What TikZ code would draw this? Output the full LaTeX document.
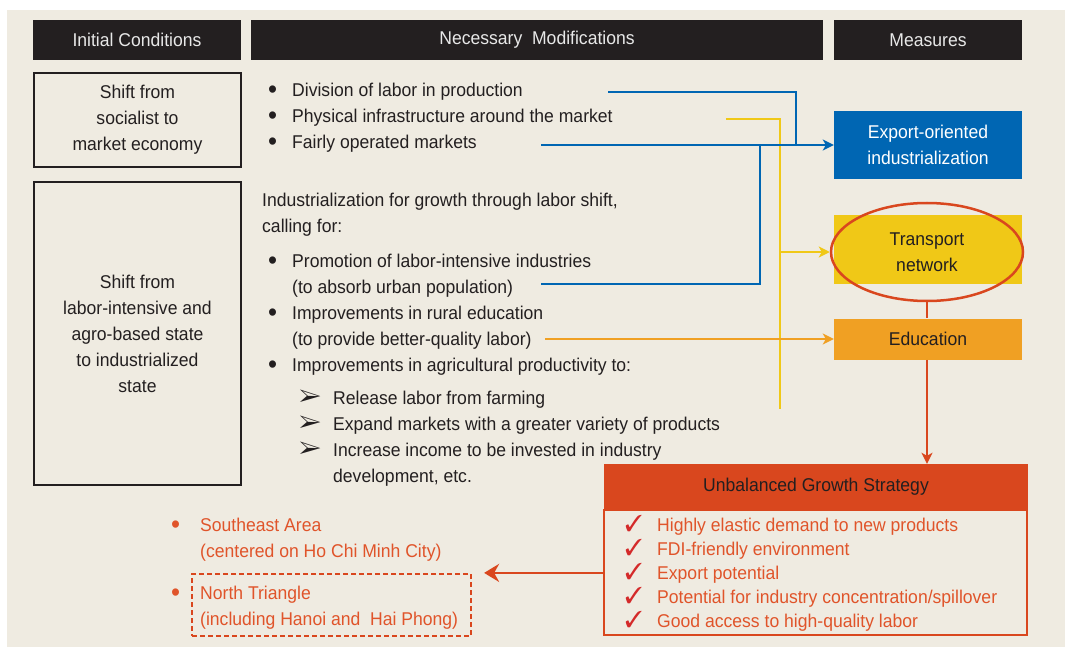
\documentclass[tikz,border=0pt]{standalone}
\usepackage{fontspec}
\setmainfont{Liberation Sans}[FakeStretch=0.95]
\usepackage{pifont}
\usetikzlibrary{arrows.meta,shapes.geometric}
\definecolor{bg}{HTML}{EFEBE1}
\definecolor{ink}{HTML}{231F20}
\definecolor{hdtxt}{HTML}{E8E8E8}
\definecolor{expblue}{HTML}{0066B3}
\definecolor{trnyel}{HTML}{F0C817}
\definecolor{eduorg}{HTML}{F0A023}
\definecolor{ubsred}{HTML}{D9471E}
\definecolor{ubstxt}{HTML}{E0542A}
\definecolor{chkred}{HTML}{D42A2A}
\newcommand{\fnt}{\fontsize{18.5}{26}\selectfont}
\newcommand{\bdot}{\smash{\raisebox{-2pt}{\fontsize{27}{27}\selectfont\textbullet}}}
\newcommand{\bul}{\makebox[23pt][l]{\hspace*{-1pt}\bdot}}
\newcommand{\arw}{\makebox[34pt][l]{\smash{\fontsize{24}{24}\selectfont\ding{226}}}}
\newcommand{\chk}{\makebox[32pt][l]{\smash{\textcolor{chkred}{\fontsize{23}{23}\selectfont\ding{51}}}}}
\begin{document}
\begin{tikzpicture}[x=1pt,y=-1pt,
    txt/.style={font=\fnt,text=ink,inner sep=0pt,align=left,anchor=north west},
    hdr/.style={fill=ink,text=hdtxt,font=\fnt,minimum height=40pt,inner sep=0pt},
    cond/.style={draw=ink,line width=1.3pt,font=\fnt,text=ink,align=center,minimum width=207pt,inner sep=0pt},
    msr/.style={minimum width=188pt,font=\fnt,text=ink,align=center,inner sep=0pt},
    tip/.style={-{Stealth[length=11pt,width=11pt,inset=3pt]}},
    bline/.style={draw=expblue,line width=2.8pt},
    yline/.style={draw=trnyel,line width=2.8pt},
    oline/.style={draw=eduorg,line width=2.8pt},
    rline/.style={draw=ubsred,line width=2.8pt}]
  \useasboundingbox (0,0) rectangle (1065,647);
  \fill[bg] (7,10) rectangle (1065,647);
  % column heads
  \node[hdr,minimum width=208pt] (ic) at (137,40) {Initial Conditions};
  \node[hdr,minimum width=572pt] (nm) at (537,40) {Necessary\ \ Modifications};
  \node[hdr,minimum width=188pt] (ms) at (928,40) {Measures};
  % initial conditions
  \node[cond,minimum height=94pt] (sh1) at (137.5,120) {Shift from\\socialist to\\market economy};
  \node[cond,minimum height=303pt] (sh2) at (137.5,333.5) {Shift from\\labor-intensive and\\agro-based state\\to industrialized\\state};
  % necessary modifications
  \node[txt] (mod1) at (269,83) {\bul Division of labor in production\\\bul Physical infrastructure around the market\\\bul Fairly operated markets};
  \node[txt] (mod2) at (262,193) {Industrialization for growth through labor shift,\\calling for:};
  \node[txt] (mod3) at (269,254) {\bul Promotion of labor-intensive industries\\\hspace*{23pt}(to absorb urban population)\\\bul Improvements in rural education\\\hspace*{23pt}(to provide better-quality labor)\\\bul Improvements in agricultural productivity to:};
  \node[txt] (mod4) at (299,391) {\arw Release labor from farming\\\arw Expand markets with a greater variety of products\\\arw Increase income to be invested in industry\\\hspace*{34pt}development, etc.};
  % measures
  \node[msr,fill=expblue,text=white,minimum height=68pt] (exp) at (928,145) {Export-oriented\\industrialization};
  \node[msr,fill=trnyel,minimum height=69pt] (trn) at (928,249.5) {};
  \node[draw=ubsred,line width=2.5pt,ellipse,minimum width=192pt,minimum height=98pt,inner sep=0pt,font=\fnt,text=ink,align=center] (ell) at (927,252) {Transport\\network};
  \node[msr,fill=eduorg,minimum height=41pt] (edu) at (928,339) {Education};
  % strategy
  \node[msr,fill=ubsred,minimum width=424pt,minimum height=46pt] (ubs) at (816,487) {Unbalanced Growth Strategy};
  \node[draw=ubsred,line width=2.8pt,minimum width=423pt,minimum height=125pt] (ubb) at (815.5,572.5) {};
  \node[txt,text=ubstxt,font=\fontsize{18.5}{24}\selectfont] (chk) at (625,518) {\chk Highly elastic demand to new products\\\chk FDI-friendly environment\\\chk Export potential\\\chk Potential for industry concentration/spillover\\\chk Good access to high-quality labor};
  % regions
  \node[txt,text=ubstxt] (se) at (171,518) {\makebox[29pt][l]{\bdot}Southeast Area\\\hspace*{29pt}(centered on Ho Chi Minh City)};
  \node[txt,text=ubstxt] (nt) at (171,586) {\makebox[29pt][l]{\bdot}North Triangle\\\hspace*{29pt}(including Hanoi and\ \ Hai Phong)};
  \node[draw=ubsred,line width=2.2pt,dash pattern=on 5pt off 3pt,minimum width=279pt,minimum height=62pt] (ntbox) at (331.5,605) {};
  % connectors
  \coordinate (divEnd) at (608,92);
  \coordinate (mktEnd) at (541,145);
  \coordinate (labEnd) at (541,284);
  \coordinate (infEnd) at (726,119);
  \coordinate (eduEnd) at (545,339);
  \coordinate (bjoin) at (796,145);
  \coordinate (bturn) at (760,145);
  \coordinate (ybot) at (780,409);
  \coordinate (yjoin) at (780,252);
  \begin{scope}
    \draw[yline] (infEnd) -| (ybot);
    \draw[yline,tip] (yjoin) -- (ell.west);
    \draw[bline] (divEnd) -| (bjoin);
    \draw[bline] (labEnd) -| (bturn);
    \draw[bline,tip] (mktEnd) -- (exp.west);
    \draw[oline,tip] (eduEnd) -- (edu.west);
    \draw[rline] (ell.south) -- (ell.south |- edu.north);
    \draw[rline,tip] (edu.south -| ell.south) -- (ell.south |- ubs.north);
    \draw[rline,-{Stealth[length=15pt,width=18pt,inset=5pt]}] (ubb.west |- ntbox.north) -- ([xshift=12pt]ntbox.north east);
  \end{scope}
\end{tikzpicture}
\end{document}
